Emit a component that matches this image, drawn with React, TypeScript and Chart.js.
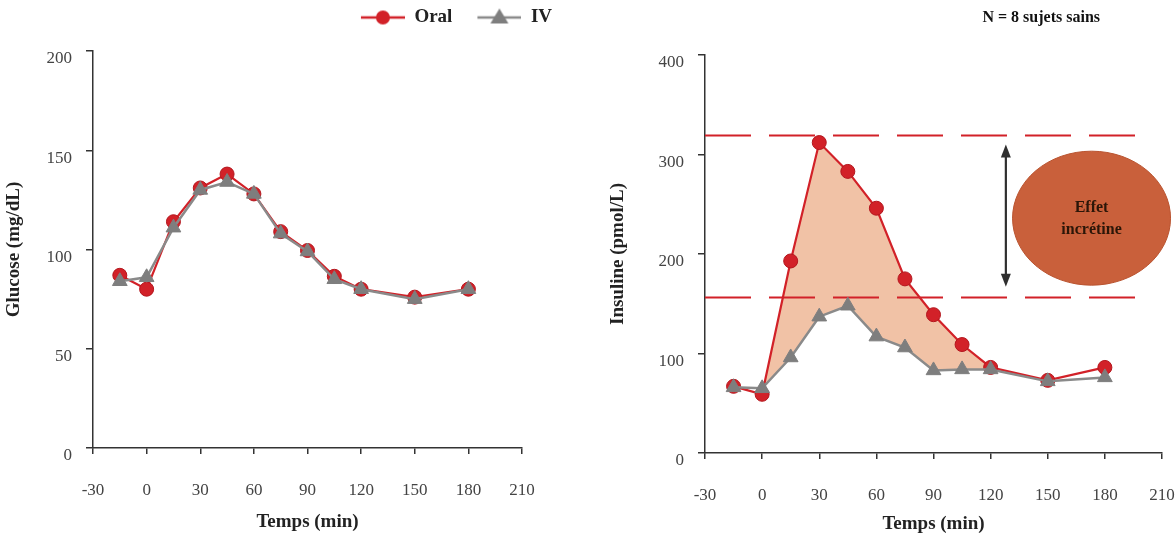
import React, { useEffect, useRef } from 'react';
import { Chart, registerables } from 'chart.js';

Chart.register(...registerables);

// ---- data ----
const timeMin = [-15, 0, 15, 30, 45, 60, 75, 90, 105, 120, 150, 180];
const glucoseOral = [87, 80, 114, 131, 138, 128, 109, 99.5, 86.5, 80, 76, 80];
const glucoseIV = [84, 86, 111, 130, 134, 128, 108, 99, 85, 80, 75, 80];
const insulinOral = [67, 59, 193, 312, 283, 246, 175, 139, 109, 86, 73, 86];
const insulinIV = [66, 65, 96, 137, 148, 117, 106, 83, 84, 84, 72, 76];
const seriesNames = ['Oral', 'IV'];
const xTicks = [-30, 0, 30, 60, 90, 120, 150, 180, 210];
const glucoseTicks = [0, 50, 100, 150, 200];
const insulinTicks = [0, 100, 200, 300, 400];
const incretinLevels = [320, 157];
const incretinDashEnd = 196;
const incretinArrow = { x: 128, top: 310, bottom: 167 };
const incretinBubble = { x: 173, y: 236, lines: ['Effet', 'incrétine'] };
const fillRange = [0, 120];
const rightTitle = 'N = 8 sujets sains';

// ---- styles ----
const FONT = "'Liberation Serif', 'Times New Roman', serif";
const RED = '#D22128';
const RED_DARK = '#B3161D';
const GRAY = '#8A8A8A';
const GRAY_FILL = '#7E7E7E';
const PEACH = 'rgba(239, 183, 150, 0.85)';
const AXIS = '#333333';

const pts = (xs: number[], ys: number[]) => xs.map((x, i) => ({ x, y: ys[i] }));

function legendIcon(kind: 'circle' | 'triangle') {
  const c = document.createElement('canvas');
  c.width = 61;
  c.height = 20;
  const ctx = c.getContext('2d')!;
  ctx.strokeStyle = kind === 'circle' ? RED : GRAY;
  ctx.lineWidth = 2.5;
  ctx.beginPath();
  ctx.moveTo(17, 10);
  ctx.lineTo(61, 10);
  ctx.stroke();
  ctx.beginPath();
  if (kind === 'circle') {
    ctx.arc(39, 10, 7, 0, Math.PI * 2);
    ctx.fillStyle = RED;
  } else {
    ctx.moveTo(39, 1);
    ctx.lineTo(48, 16);
    ctx.lineTo(30, 16);
    ctx.closePath();
    ctx.fillStyle = GRAY_FILL;
  }
  ctx.fill();
  return c;
}

function xScale(afterHeight: number, titleBottom: number) {
  return {
    type: 'linear' as const,
    min: xTicks[0],
    max: xTicks[xTicks.length - 1],
    afterBuildTicks: (axis: any) => {
      axis.ticks = xTicks.map((v) => ({ value: v }));
    },
    ticks: { font: { family: FONT, size: 17 }, color: '#444', padding: 26, maxRotation: 0, autoSkip: false },
    grid: { display: true, drawOnChartArea: false, drawTicks: true, tickLength: 6, color: AXIS, lineWidth: 1.5 },
    border: { display: true, color: AXIS, width: 1.5 },
    title: {
      display: true,
      text: 'Temps (min)',
      font: { family: FONT, size: 19, weight: 'bold' as const },
      color: '#222',
      padding: { top: 0, bottom: titleBottom },
    },
    afterFit: (axis: any) => {
      axis.height = afterHeight;
      axis.paddingLeft = 0;
      axis.paddingRight = 0;
    },
  };
}

function yScale(max: number, tickVals: number[], title: string, width: number, titleTop: number) {
  return {
    type: 'linear' as const,
    min: 0,
    max,
    afterBuildTicks: (axis: any) => {
      axis.ticks = tickVals.map((v) => ({ value: v }));
    },
    ticks: { font: { family: FONT, size: 17 }, color: '#444', padding: 14, labelOffset: 8 },
    grid: { display: true, drawOnChartArea: false, drawTicks: true, tickLength: 7, color: AXIS, lineWidth: 1.5 },
    border: { display: true, color: AXIS, width: 1.5 },
    title: {
      display: true,
      text: title,
      font: { family: FONT, size: 19, weight: 'bold' as const },
      color: '#222',
      padding: { top: titleTop, bottom: 0 },
    },
    afterFit: (axis: any) => {
      axis.width = width;
      axis.paddingTop = 0;
      axis.paddingBottom = 0;
    },
  };
}

function seriesDatasets(oral: number[], iv: number[]) {
  return [
    {
      label: seriesNames[0],
      data: pts(timeMin, oral),
      borderColor: RED,
      backgroundColor: RED,
      pointBackgroundColor: RED,
      pointBorderColor: RED_DARK,
      pointBorderWidth: 1,
      pointStyle: 'circle',
      pointRadius: 7,
      borderWidth: 2.2,
      fill: false,
      order: 2,
    },
    {
      label: seriesNames[1],
      data: pts(timeMin, iv),
      borderColor: GRAY,
      backgroundColor: GRAY_FILL,
      pointBackgroundColor: GRAY_FILL,
      pointBorderColor: GRAY_FILL,
      pointBorderWidth: 1,
      pointStyle: 'triangle',
      pointRadius: 8.5,
      borderWidth: 2.5,
      fill: false,
      order: 1,
    },
  ];
}

const legendHeightPlugin = {
  id: 'legendHeight',
  beforeInit(chart: any) {
    const lg = chart.legend;
    if (!lg) return;
    const fit = lg.fit;
    lg.fit = function () {
      fit.call(this);
      this.height = 51;
    };
  },
};

const incretinPlugin = {
  id: 'incretin',
  beforeDatasetsDraw(chart: any) {
    const { ctx, scales } = chart;
    const x = scales.x;
    const y = scales.y;
    ctx.save();
    ctx.strokeStyle = RED;
    ctx.lineWidth = 2.2;
    ctx.setLineDash([46, 18]);
    for (const lv of incretinLevels) {
      const py = Math.round(y.getPixelForValue(lv)) + 0.5;
      ctx.beginPath();
      ctx.moveTo(x.getPixelForValue(xTicks[0]), py);
      ctx.lineTo(x.getPixelForValue(incretinDashEnd), py);
      ctx.stroke();
    }
    ctx.restore();
  },
  afterDatasetsDraw(chart: any) {
    const { ctx, scales, chartArea } = chart;
    const x = scales.x;
    const y = scales.y;
    ctx.save();
    // double arrow
    const ax = x.getPixelForValue(incretinArrow.x);
    const at = y.getPixelForValue(incretinArrow.top);
    const ab = y.getPixelForValue(incretinArrow.bottom);
    ctx.strokeStyle = '#2f2f2f';
    ctx.fillStyle = '#2f2f2f';
    ctx.lineWidth = 2.2;
    ctx.beginPath();
    ctx.moveTo(ax, at + 10);
    ctx.lineTo(ax, ab - 10);
    ctx.stroke();
    ctx.beginPath();
    ctx.moveTo(ax, at);
    ctx.lineTo(ax + 5, at + 13);
    ctx.lineTo(ax - 5, at + 13);
    ctx.closePath();
    ctx.fill();
    ctx.beginPath();
    ctx.moveTo(ax, ab);
    ctx.lineTo(ax + 5, ab - 13);
    ctx.lineTo(ax - 5, ab - 13);
    ctx.closePath();
    ctx.fill();
    // bubble
    const bx = x.getPixelForValue(incretinBubble.x);
    const by = y.getPixelForValue(incretinBubble.y);
    ctx.beginPath();
    ctx.ellipse(bx, by, 79, 67, 0, 0, Math.PI * 2);
    ctx.fillStyle = '#C9603B';
    ctx.fill();
    ctx.strokeStyle = '#B9532F';
    ctx.lineWidth = 1;
    ctx.stroke();
    ctx.fillStyle = '#2b1608';
    ctx.font = `bold 16px ${FONT}`;
    ctx.textAlign = 'center';
    ctx.textBaseline = 'middle';
    incretinBubble.lines.forEach((t, i) => {
      ctx.fillText(t, bx, by - 10 + i * 22);
    });
    // title
    ctx.fillStyle = '#111';
    ctx.font = `bold 16px ${FONT}`;
    ctx.textAlign = 'right';
    ctx.fillText(rightTitle, chartArea.right - 62, 18);
    ctx.restore();
  },
};

export default function App() {
  const leftRef = useRef<HTMLCanvasElement>(null);
  const rightRef = useRef<HTMLCanvasElement>(null);

  useEffect(() => {
    const icons = [legendIcon('circle'), legendIcon('triangle')];

    const left = new Chart(leftRef.current!, {
      type: 'line',
      data: { datasets: seriesDatasets(glucoseOral, glucoseIV) as any },
      options: {
        animation: false,
        responsive: true,
        maintainAspectRatio: false,
        events: [],
        layout: { padding: { top: 0, left: 0, right: 30, bottom: 0 } },
        scales: {
          x: xScale(91, 6) as any,
          y: yScale(200, glucoseTicks, 'Glucose (mg/dL)', 93, 3) as any,
          yDummy: {
            type: 'linear',
            position: 'right',
            display: true,
            grid: { display: false },
            border: { display: false },
            ticks: { display: false },
            afterFit: (axis: any) => {
              axis.width = 38;
            },
          } as any,
        },
        plugins: {
          tooltip: { enabled: false },
          legend: {
            display: true,
            position: 'top',
            align: 'end',
            labels: {
              usePointStyle: true,
              pointStyleWidth: 61,
              padding: 8,
              color: '#222',
              font: { family: FONT, size: 19, weight: 'bold' },
              generateLabels: (chart: any) =>
                chart.data.datasets.map((ds: any, i: number) => ({
                  text: ds.label,
                  pointStyle: icons[i],
                  datasetIndex: i,
                  hidden: false,
                  lineWidth: 0,
                  strokeStyle: 'rgba(0,0,0,0)',
                  fillStyle: 'rgba(0,0,0,0)',
                  fontColor: '#222',
                })),
            },
          },
        },
      },
      plugins: [legendHeightPlugin],
    });

    const inRange = (t: number) => t >= fillRange[0] && t <= fillRange[1];
    const fillOral = pts(timeMin, insulinOral).filter((p) => inRange(p.x));
    const fillIV = pts(timeMin, insulinIV).filter((p) => inRange(p.x));

    const right = new Chart(rightRef.current!, {
      type: 'line',
      data: {
        datasets: [
          ...(seriesDatasets(insulinOral, insulinIV) as any),
          {
            label: 'fillOral',
            data: fillOral,
            borderWidth: 0,
            borderColor: 'rgba(0,0,0,0)',
            pointRadius: 0,
            fill: { target: 3, above: PEACH, below: 'rgba(0,0,0,0)' },
            order: 3,
          },
          {
            label: 'fillIV',
            data: fillIV,
            borderWidth: 0,
            borderColor: 'rgba(0,0,0,0)',
            pointRadius: 0,
            fill: false,
            order: 4,
          },
        ],
      },
      options: {
        animation: false,
        responsive: true,
        maintainAspectRatio: false,
        events: [],
        layout: { padding: { top: 55, left: 0, right: 14, bottom: 0 } },
        scales: {
          x: xScale(86, 4) as any,
          y: yScale(400, insulinTicks, 'Insuline (pmol/L)', 115, 17) as any,
        },
        plugins: {
          tooltip: { enabled: false },
          legend: { display: false },
          filler: { drawTime: 'beforeDatasetsDraw' },
        } as any,
      },
      plugins: [incretinPlugin],
    });

    return () => {
      left.destroy();
      right.destroy();
    };
  }, []);

  return (
    <div style={{ position: 'fixed', left: 0, top: 0, width: 1176, height: 539, background: '#ffffff' }}>
      <div style={{ position: 'absolute', left: 0, top: 0, width: 590, height: 539 }}>
        <canvas ref={leftRef} />
      </div>
      <div style={{ position: 'absolute', left: 590, top: 0, width: 586, height: 539 }}>
        <canvas ref={rightRef} />
      </div>
    </div>
  );
}
